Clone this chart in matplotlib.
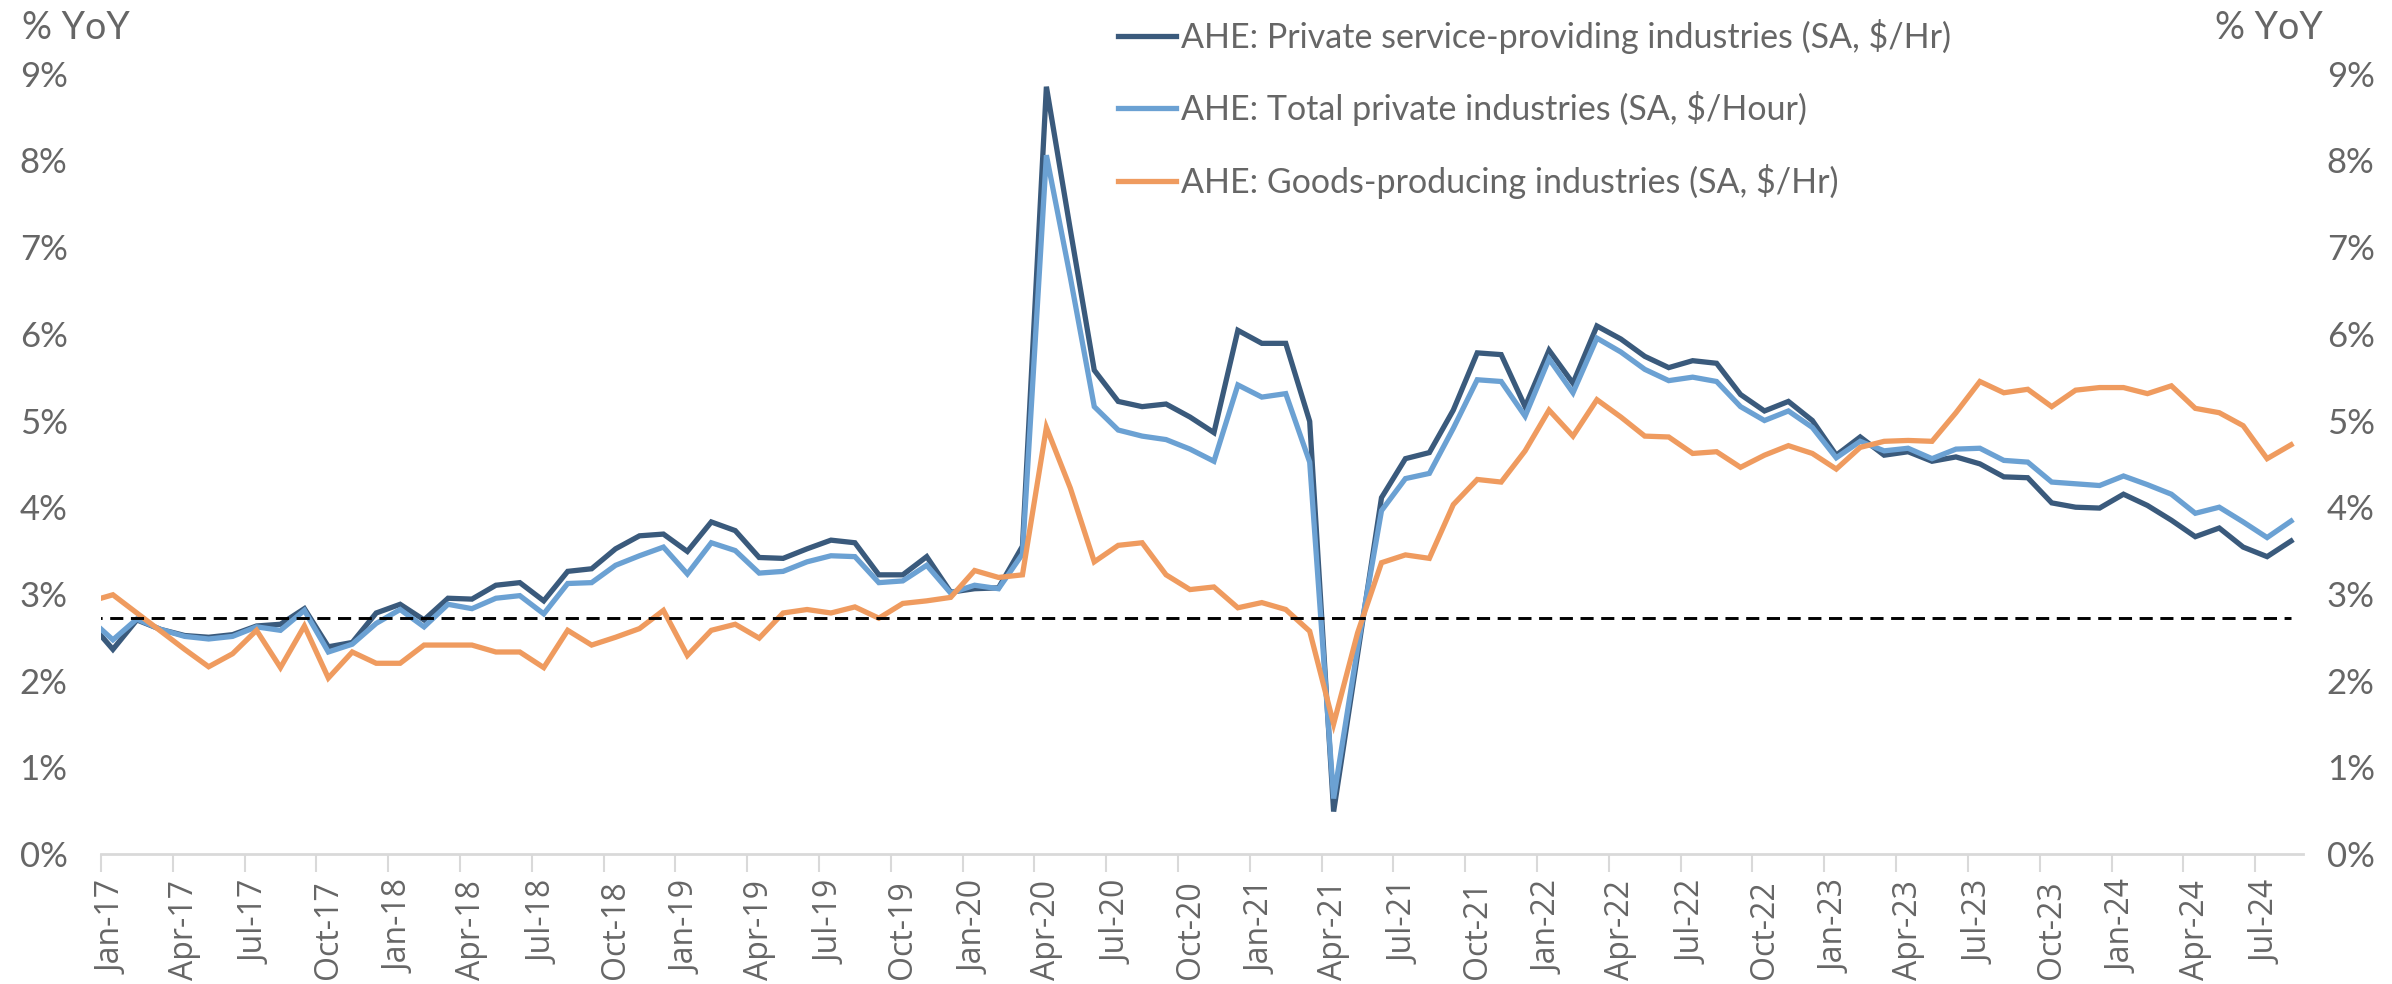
import numpy as np
import pandas as pd
import matplotlib
matplotlib.use("Agg")
import matplotlib.pyplot as plt
from matplotlib.ticker import FixedLocator, PercentFormatter

# monthly YoY % change, Dec-16 .. Aug-24 (Dec-16 only feeds the clipped first segment)
months = pd.date_range("2016-12-01", periods=93, freq="MS")

service = [2.68,
    2.36, 2.70, 2.59, 2.52, 2.50, 2.53, 2.63, 2.65, 2.83, 2.39, 2.44, 2.78,
    2.88, 2.70, 2.95, 2.94, 3.10, 3.13, 2.92, 3.26, 3.29, 3.52, 3.67, 3.69,
    3.49, 3.83, 3.73, 3.42, 3.41, 3.52, 3.62, 3.59, 3.22, 3.22, 3.43, 3.02,
    3.06, 3.07, 3.55, 8.85, 7.20, 5.58, 5.22, 5.16, 5.19, 5.04, 4.86, 6.04,
    5.89, 5.89, 4.99, 0.49, 2.30, 4.11, 4.56, 4.63, 5.12, 5.78, 5.76, 5.16,
    5.81, 5.43, 6.09, 5.94, 5.74, 5.61, 5.69, 5.66, 5.30, 5.11, 5.22, 5.00,
    4.60, 4.81, 4.60, 4.64, 4.53, 4.58, 4.50, 4.35, 4.34, 4.05, 4.00, 3.99,
    4.15, 4.02, 3.85, 3.66, 3.76, 3.54, 3.43, 3.61]

total = [2.72,
    2.47, 2.71, 2.59, 2.51, 2.48, 2.51, 2.62, 2.58, 2.81, 2.33, 2.42, 2.66,
    2.82, 2.62, 2.88, 2.83, 2.95, 2.98, 2.77, 3.12, 3.13, 3.33, 3.44, 3.54,
    3.23, 3.59, 3.50, 3.24, 3.26, 3.37, 3.44, 3.43, 3.13, 3.15, 3.33, 3.01,
    3.10, 3.06, 3.46, 8.06, 6.65, 5.16, 4.89, 4.82, 4.78, 4.67, 4.53, 5.41,
    5.27, 5.31, 4.52, 0.64, 2.38, 3.96, 4.33, 4.39, 4.91, 5.47, 5.45, 5.05,
    5.71, 5.32, 5.95, 5.79, 5.59, 5.46, 5.50, 5.45, 5.16, 5.00, 5.11, 4.92,
    4.57, 4.76, 4.65, 4.68, 4.56, 4.67, 4.68, 4.54, 4.52, 4.29, 4.27, 4.25,
    4.36, 4.26, 4.15, 3.93, 4.00, 3.83, 3.65, 3.84]

goods = [2.91,
    2.99, 2.78, 2.57, 2.36, 2.16, 2.31, 2.58, 2.15, 2.63, 2.03, 2.33, 2.20,
    2.20, 2.41, 2.41, 2.41, 2.33, 2.33, 2.15, 2.58, 2.41, 2.50, 2.60, 2.81,
    2.29, 2.58, 2.65, 2.49, 2.78, 2.82, 2.78, 2.85, 2.72, 2.89, 2.92, 2.96,
    3.27, 3.19, 3.22, 4.92, 4.22, 3.37, 3.56, 3.59, 3.22, 3.05, 3.08, 2.84,
    2.90, 2.82, 2.57, 1.50, 2.55, 3.36, 3.45, 3.41, 4.03, 4.32, 4.29, 4.65,
    5.12, 4.82, 5.24, 5.04, 4.82, 4.81, 4.62, 4.64, 4.46, 4.60, 4.71, 4.62,
    4.44, 4.69, 4.76, 4.77, 4.76, 5.09, 5.45, 5.32, 5.36, 5.16, 5.35, 5.38,
    5.38, 5.31, 5.40, 5.14, 5.09, 4.94, 4.56, 4.72]

ref_level = 2.72

names = ["AHE: Private service-providing industries (SA, $/Hr)",
         "AHE: Total private industries (SA, $/Hour)",
         "AHE: Goods-producing industries (SA, $/Hr)"]
colors = ["#3A5A7C", "#6BA1D3", "#EF9B5F"]

x = np.arange(-1, len(months) - 1)
grey = "#666666"

fig = plt.figure(figsize=(23.92, 9.84), dpi=100)
ax = fig.add_axes([0.0422, 0.1321, 0.9206, 0.7930])

for y, c, n in zip([service, total, goods], colors, names):
    ax.plot(x, y, color=c, lw=3.8, label=n, solid_joinstyle="miter")
ax.plot(x, [ref_level] * len(x), color="black", lw=2.1, ls=(0, (4.5, 2.6)))

ax.set_xlim(-0.5, len(x) - 1.5)
ax.set_ylim(0, 9)

# ticks on month boundaries, labels on month centres
ax.xaxis.set_major_locator(FixedLocator(np.arange(-0.5, len(x) - 1, 3)))
ax.xaxis.set_major_formatter(plt.NullFormatter())
ax.set_xticks(np.arange(0, len(x) - 1, 3), minor=True)
ax.set_xticklabels([months[i + 1].strftime("%b-%y") for i in range(0, len(x) - 1, 3)],
                   minor=True, rotation=90, fontsize=23, color=grey, family="Open Sans")
ax.tick_params(axis="x", which="major", length=13, width=1.5, color="#D9D9D9", direction="out")
ax.tick_params(axis="x", which="minor", length=0, pad=19)

ax.set_yticks(range(0, 10))
ax.yaxis.set_major_formatter(PercentFormatter(decimals=0))
ax.tick_params(axis="y", length=0, pad=24, labelsize=25, labelcolor=grey)
for t in ax.get_yticklabels():
    t.set_family("Lato")

ax2 = ax.twinx()
ax2.set_ylim(0, 9)
ax2.set_yticks(range(0, 10))
ax2.yaxis.set_major_formatter(PercentFormatter(decimals=0))
ax2.tick_params(axis="y", length=0, pad=17, labelsize=25, labelcolor=grey)
for t in ax2.get_yticklabels():
    t.set_family("Lato")

for a in (ax, ax2):
    for s in ("top", "left", "right", "bottom"):
        a.spines[s].set_visible(False)
ax.spines["bottom"].set_visible(True)
ax.spines["bottom"].set_color("#D9D9D9")
ax.spines["bottom"].set_linewidth(2)

fig.text(0.009, 0.972, "% YoY", fontsize=27, color=grey, family="Lato", va="center")
fig.text(0.926, 0.972, "% YoY", fontsize=27, color=grey, family="Lato", va="center")

leg = ax.legend(loc="upper left", bbox_to_anchor=(0.4597, 1.0), bbox_transform=fig.transFigure,
                frameon=False, handlelength=1.7, handletextpad=0.15,
                labelspacing=1.1, borderaxespad=0.15, prop={"family": "Lato", "size": 24.5})
for t in leg.get_texts():
    t.set_color(grey)

fig.savefig("out.png", dpi=100)
